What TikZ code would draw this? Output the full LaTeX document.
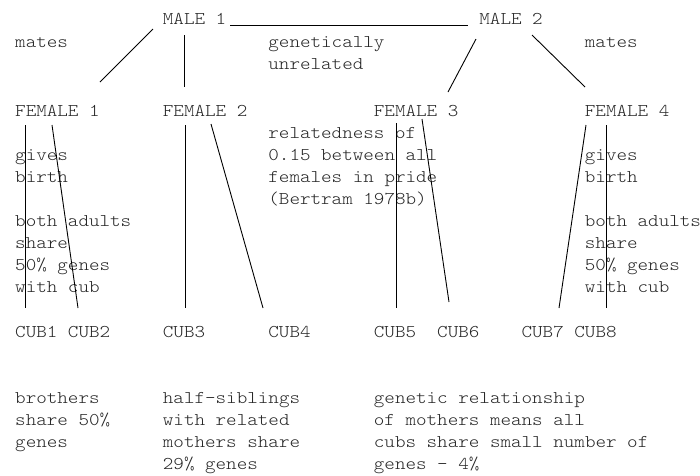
\documentclass[tikz,border=0pt]{standalone}
\usepackage{fontspec}
\newfontfamily\monofnt[FakeStretch=1.12]{Latin Modern Mono Light}
\begin{document}
\begin{tikzpicture}[x=1pt,y=-1pt,
  txt/.style={inner sep=0pt,anchor=base west,align=left,text=black!85,
    font=\monofnt\fontsize{17.95}{22.1}\selectfont},
  link/.style={line width=0.9pt,black}]
\useasboundingbox[fill=white] (0,0) rectangle (700,475);
% multi-line nodes are placed at the baseline of their last line
% top row
\node[txt] (M1) at (162.7,24) {MALE 1};
\node[txt] (M2) at (479.2,24) {MALE 2};
\node[txt] (mates1) at (15,47) {mates};
\node[txt] (gen) at (268.2,69.1) {genetically\\unrelated};
\node[txt] (mates2) at (584.7,47) {mates};
% females
\node[txt] (F1) at (15,116) {FEMALE 1};
\node[txt] (F2) at (162.7,116) {FEMALE 2};
\node[txt] (F3) at (373.7,116) {FEMALE 3};
\node[txt] (F4) at (584.7,116) {FEMALE 4};
\node[txt] (rel) at (268.2,204.4) {relatedness of\\0.15 between all\\females in pride\\(Bertram 1978b)};
\node[txt] (gb1) at (15,182.3) {gives\\birth};
\node[txt] (ba1) at (15,292.8) {both adults\\share\\50\% genes\\with cub};
\node[txt] (gb2) at (584.7,182.3) {gives\\birth};
\node[txt] (ba2) at (584.7,292.8) {both adults\\share\\50\% genes\\with cub};
% cubs
\node[txt] (C1) at (15,337) {CUB1};
\node[txt] (C2) at (67.75,337) {CUB2};
\node[txt] (C3) at (162.7,337) {CUB3};
\node[txt] (C4) at (268.2,337) {CUB4};
\node[txt] (C5) at (373.7,337) {CUB5};
\node[txt] (C6) at (437,337) {CUB6};
\node[txt] (C7) at (521.4,337) {CUB7};
\node[txt] (C8) at (574.2,337) {CUB8};
% bottom notes
\node[txt] (b1) at (15,447.5) {brothers\\share 50\%\\genes};
\node[txt] (b2) at (162.7,469.6) {half-siblings\\with related\\mothers share\\29\% genes};
\node[txt] (b3) at (373.7,469.6) {genetic relationship\\of mothers means all\\cubs share small number of\\genes - 4\%};
% connectors
\draw[link] ([shift={(-9.7,5)}]M1.base west) -- ([shift={(85,-34)}]F1.base west);
\draw[link] ([shift={(21.8,11)}]M1.base west) -- ([shift={(21.8,-29)}]F2.base west);
\draw[link] ([shift={(67.3,1)}]M1.base west) -- ([shift={(-11.2,1)}]M2.base west);
\draw[link] ([shift={(-3.2,15)}]M2.base west) -- ([shift={(74.3,-24)}]F3.base west);
\draw[link] ([shift={(52.8,11)}]M2.base west) -- ([shift={(0.3,-29)}]F4.base west);
\draw[link] ([shift={(10.5,9)}]F1.base west) -- ([shift={(10.5,-29)}]C1.base west);
\draw[link] ([shift={(37,9)}]F1.base west) -- ([shift={(10.25,-29)}]C2.base west);
\draw[link] ([shift={(22.8,9)}]F2.base west) -- ([shift={(22.8,-29)}]C3.base west);
\draw[link] ([shift={(48.3,8)}]F2.base west) -- ([shift={(-5.2,-29)}]C4.base west);
\draw[link] ([shift={(22.8,7)}]F3.base west) -- ([shift={(22.8,-29)}]C5.base west);
\draw[link] ([shift={(48.3,3)}]F3.base west) -- ([shift={(12,-35)}]C6.base west);
\draw[link] ([shift={(1.3,9)}]F4.base west) -- ([shift={(37.6,-29)}]C7.base west);
\draw[link] ([shift={(21.8,9)}]F4.base west) -- ([shift={(32.3,-29)}]C8.base west);
\end{tikzpicture}
\end{document}
